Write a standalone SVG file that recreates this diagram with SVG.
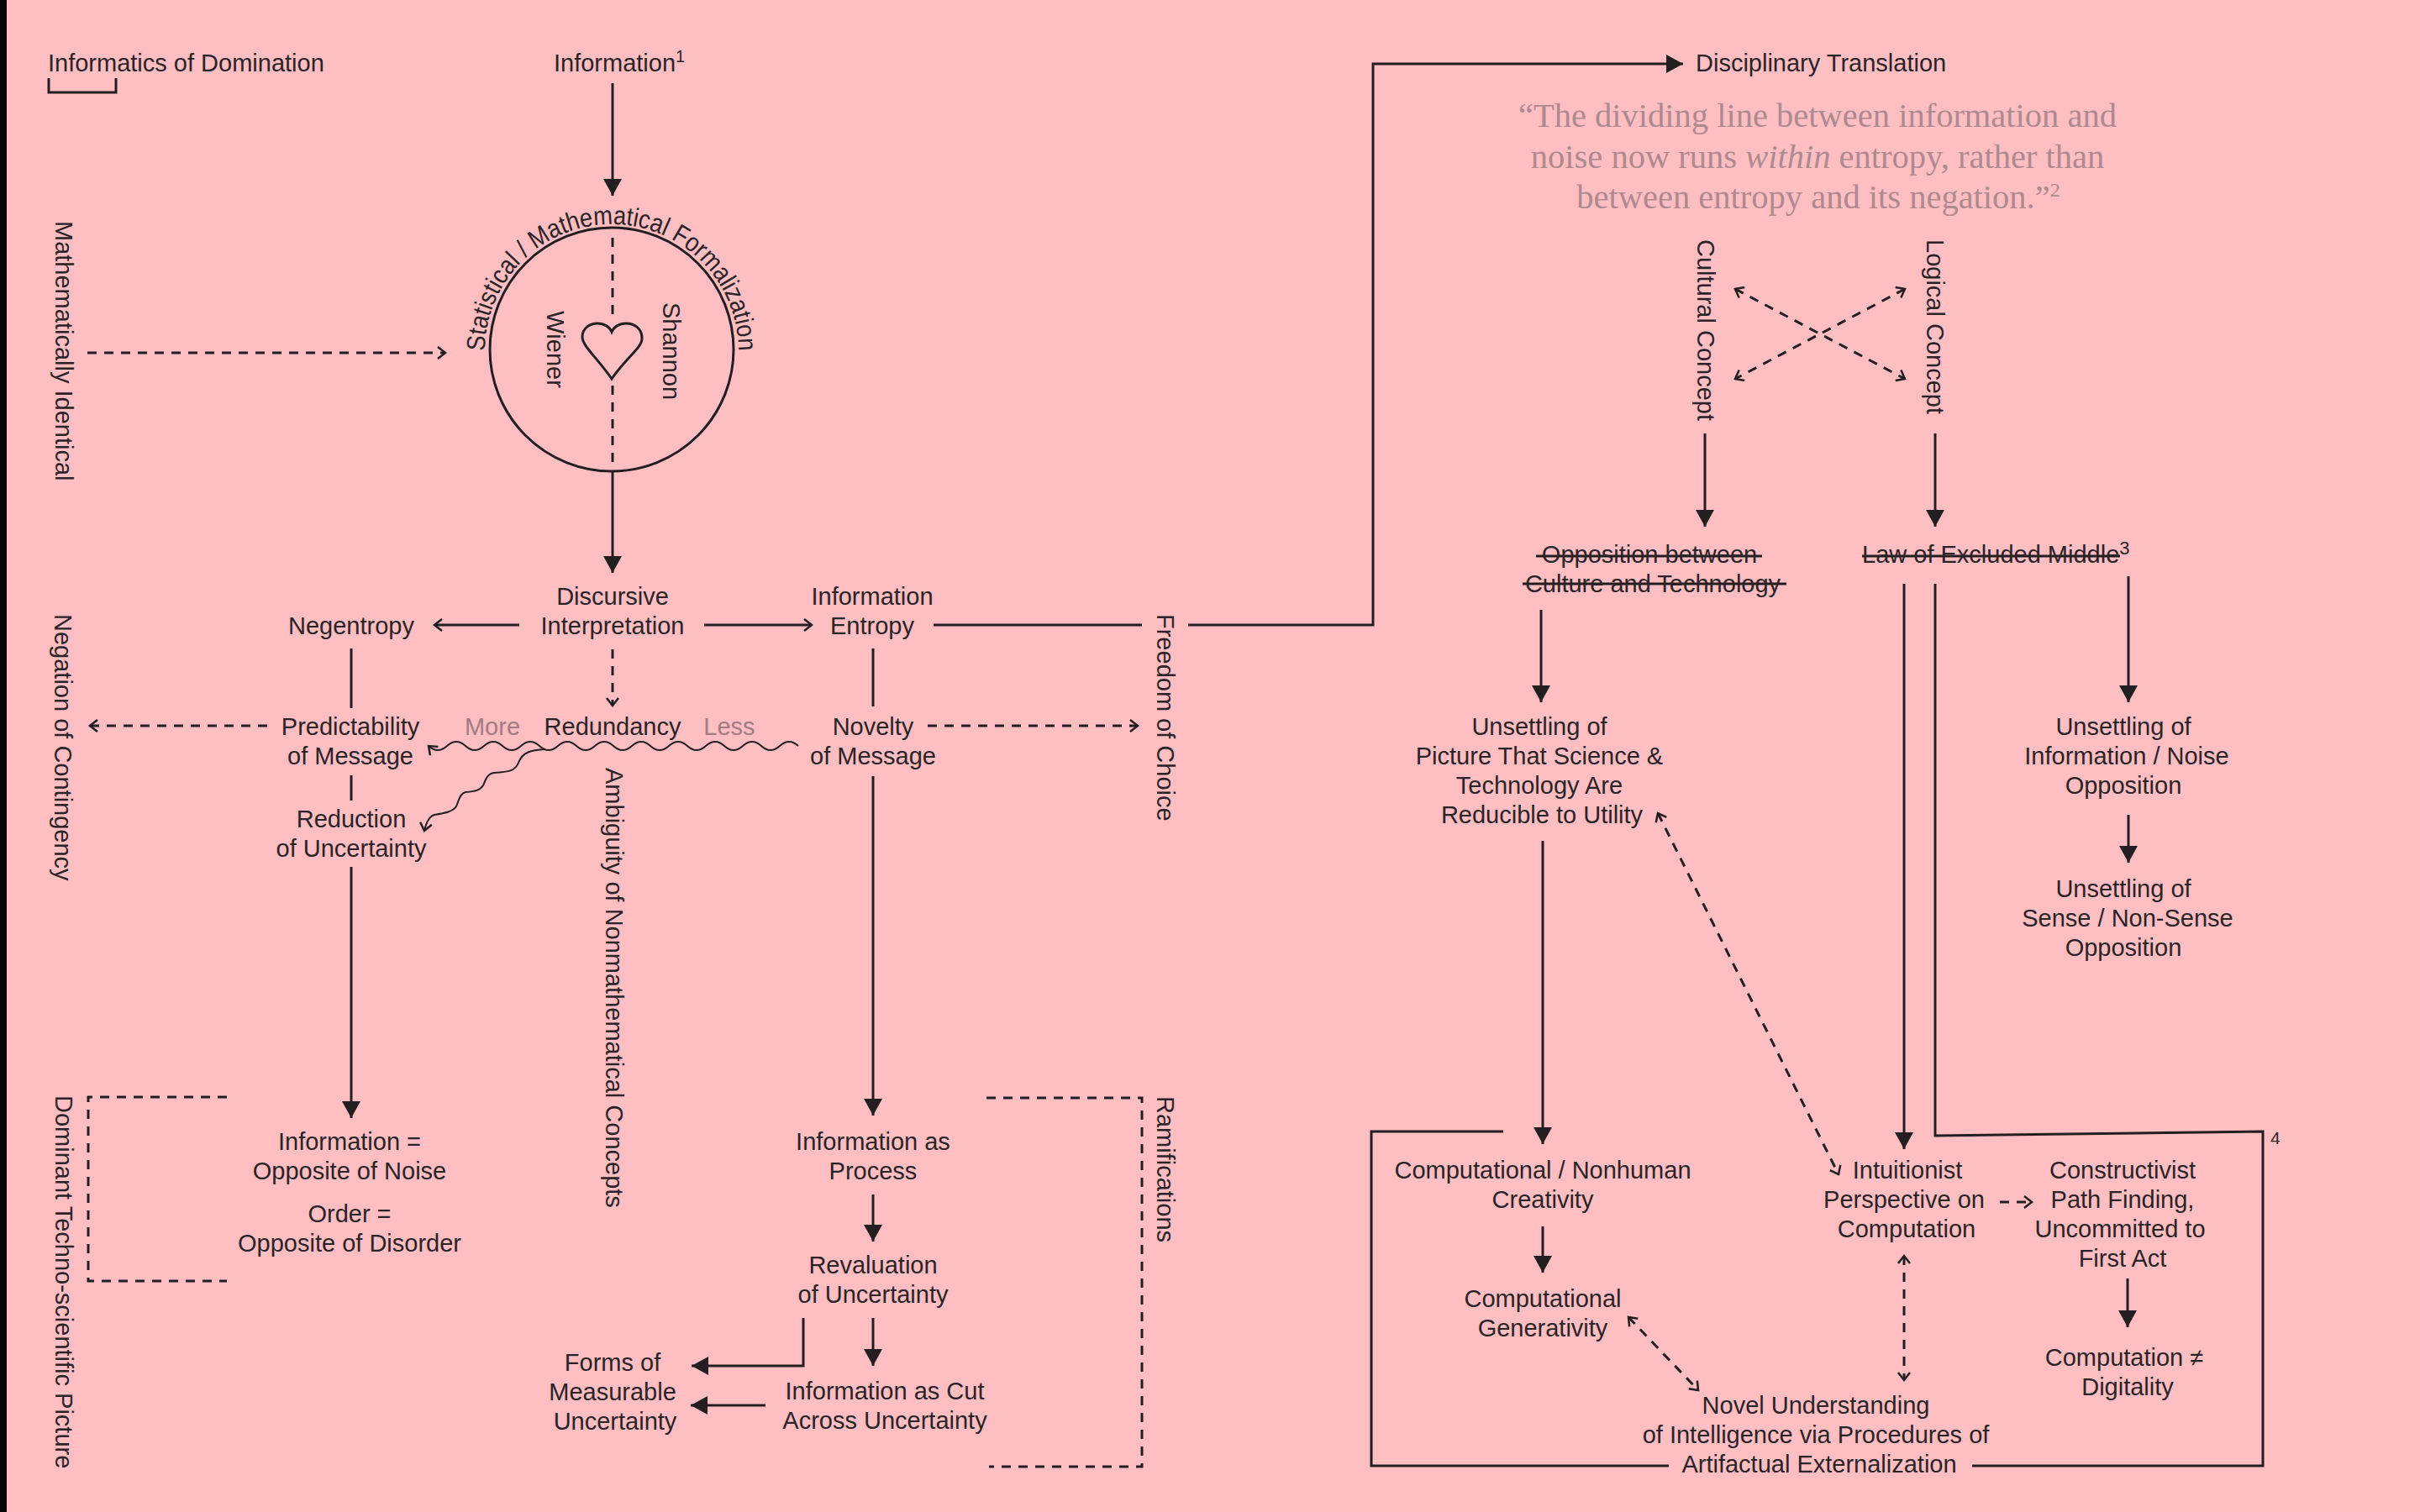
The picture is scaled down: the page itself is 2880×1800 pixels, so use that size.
<svg xmlns="http://www.w3.org/2000/svg" width="2880" height="1800" viewBox="0 0 2880 1800">
<style>
text{font-family:"Liberation Sans",Arial,sans-serif;font-size:29px;fill:#2b2427}
.m{text-anchor:middle}
.g{fill:#a27c80}
.q{font-family:"Liberation Serif","Times New Roman",serif;font-size:40.5px;fill:#ae8a8e;text-anchor:middle}
.l{fill:none;stroke:#231f20;stroke-width:3}
.d{stroke-dasharray:11 9}
.s{marker-end:url(#solid)}
.o{marker-end:url(#open)}
.b{marker-start:url(#openS);marker-end:url(#open)}
.w{stroke-width:2}
</style>
<defs>
<marker id="solid" markerUnits="userSpaceOnUse" markerWidth="22" markerHeight="24" refX="20" refY="11" orient="auto"><path d="M0 0L20 11L0 22Z" fill="#231f20"/></marker>
<marker id="open" markerUnits="userSpaceOnUse" markerWidth="14" markerHeight="18" refX="11" refY="8" orient="auto"><path d="M2 1L11 8L2 15" fill="none" stroke="#231f20" stroke-width="2.5"/></marker>
<marker id="openS" markerUnits="userSpaceOnUse" markerWidth="14" markerHeight="18" refX="3" refY="8" orient="auto"><path d="M12 1L3 8L12 15" fill="none" stroke="#231f20" stroke-width="2.5"/></marker>
</defs>
<rect width="2880" height="1800" fill="#ffbec2"/>
<rect width="8" height="1800" fill="#050505"/>
<g id="connectors">
<path class="l" d="M58 93V110H138V93"/>
<path class="l s" d="M729 99V233"/>
<path class="l d" d="M729 283V376M729 459V553"/>
<path class="l s" d="M729 560V682"/>
<path class="l d o" d="M104 420H530"/>
<path class="l o" d="M618 744H517"/>
<path class="l o" d="M838 744H966"/>
<path class="l d o" d="M729 773V840"/>
<path class="l" d="M418 772V843M418 923V953"/>
<path class="l s" d="M418 1032V1331"/>
<path class="l d o" d="M318 864H107"/>
<path class="l w o" d="M950 888q-11 -10 -22 0t-22 0t-22 0t-22 0t-22 0t-22 0t-22 0t-22 0t-22 0t-22 0t-22 0t-22 0t-22 0t-22 0t-22 0t-22 0t-22 0t-22 0t-22 0t-22 0"/>
<path class="l w o" d="M649 892C632 893 622 895 617 908C613 918 605 919 588 920C580 921 578 928 575 935C571 941 566 942 554 943C547 945 546 953 543 960C539 966 530 968 517 970C510 972 507 980 505 989"/>
<path class="l" d="M1039 772V841"/>
<path class="l s" d="M1039 924V1328"/>
<path class="l d o" d="M1104 864H1354"/>
<path class="l" d="M1111 744H1359"/>
<path class="l s" d="M1414 744H1634V76H2003"/>
<path class="l s" d="M1039 1422V1478"/>
<path class="l s" d="M1039 1569V1626"/>
<path class="l s" d="M956 1569V1626H823"/>
<path class="l s" d="M911 1673H822"/>
<path class="l d" d="M1174 1307H1359V1746H1177"/>
<path class="l d" d="M270 1306H105V1525H270"/>
<path class="l d b" d="M2065 344L2267 451"/>
<path class="l d b" d="M2267 344L2065 451"/>
<path class="l s" d="M2029 516V627"/>
<path class="l s" d="M2303 516V627"/>
<path class="l" d="M1828 662H2097M1812 695H2126M2216 662H2523"/>
<path class="l s" d="M1834 726V836"/>
<path class="l s" d="M2533 686V836"/>
<path class="l s" d="M2533 970V1027"/>
<path class="l s" d="M1836 1001V1362"/>
<path class="l s" d="M2266 695V1368"/>
<path class="l" d="M2303 695V1352L2693 1347V1745H2347M1986 1745H1632V1347H1789"/>
<path class="l s" d="M1836 1460V1515"/>
<path class="l d b" d="M1938 1568L2021 1655"/>
<path class="l d b" d="M1973 968L2188 1398"/>
<path class="l d b" d="M2266 1495V1643"/>
<path class="l d o" d="M2380 1431H2418"/>
<path class="l s" d="M2532 1522V1580"/>
</g>
<g id="informatics"><text x="57" y="85">Informatics of Domination</text></g>
<g id="information"><text x="659" y="85">Information<tspan style="font-size:20px" dy="-11">1</tspan></text></g>
<g id="math-identical"><text transform="translate(66 263) rotate(90)">Mathematically Identical</text></g>
<g id="formalization">
<circle class="l" cx="728" cy="416" r="145"/>
<path class="l" d="M728 451C710 425 693 412 693 401C693 390 703 385 711 385C720 385 726 390 728 395C730 390 736 385 745 385C754 385 764 390 764 403C764 414 746 425 728 451Z"/>
<path id="arc" fill="none" d="M577 418A151 151 0 0 1 879 418"/>
<text style="font-size:31px"><textPath href="#arc" textLength="474" lengthAdjust="spacingAndGlyphs">Statistical / Mathematical Formalization</textPath></text>
<text transform="translate(651 370) rotate(90)">Wiener</text>
<text transform="translate(789 360) rotate(90)">Shannon</text>
</g>
<g id="discursive"><text class="m" x="729" y="720">Discursive</text><text class="m" x="729" y="755">Interpretation</text></g>
<g id="negentropy"><text class="m" x="418" y="755">Negentropy</text></g>
<g id="entropy"><text class="m" x="1038" y="720">Information</text><text class="m" x="1038" y="755">Entropy</text></g>
<g id="predictability"><text class="m" x="417" y="875">Predictability</text><text class="m" x="417" y="910">of Message</text></g>
<g id="redundancy"><text class="m g" x="586" y="875">More</text><text class="m" x="729" y="875">Redundancy</text><text class="m g" x="868" y="875">Less</text></g>
<g id="novelty"><text class="m" x="1039" y="875">Novelty</text><text class="m" x="1039" y="910">of Message</text></g>
<g id="reduction"><text class="m" x="418" y="985">Reduction</text><text class="m" x="418" y="1020">of Uncertainty</text></g>
<g id="negation"><text transform="translate(65 731) rotate(90)">Negation of Contingency</text></g>
<g id="ambiguity"><text transform="translate(721 914) rotate(90)">Ambiguity of Nonmathematical Concepts</text></g>
<g id="freedom"><text transform="translate(1377 731) rotate(90)">Freedom of Choice</text></g>
<g id="dominant"><text transform="translate(66 1304) rotate(90)">Dominant Techno-scientific Picture</text></g>
<g id="ramifications"><text transform="translate(1377 1305) rotate(90)">Ramifications</text></g>
<g id="noise"><text class="m" x="416" y="1369">Information =</text><text class="m" x="416" y="1404">Opposite of Noise</text><text class="m" x="416" y="1455">Order =</text><text class="m" x="416" y="1490">Opposite of Disorder</text></g>
<g id="process"><text class="m" x="1039" y="1369">Information as</text><text class="m" x="1039" y="1404">Process</text></g>
<g id="revaluation"><text class="m" x="1039" y="1516">Revaluation</text><text class="m" x="1039" y="1551">of Uncertainty</text></g>
<g id="forms"><text class="m" x="729" y="1632">Forms of</text><text class="m" x="729" y="1667">Measurable</text><text class="m" x="732" y="1702">Uncertainty</text></g>
<g id="cut"><text class="m" x="1053" y="1666">Information as Cut</text><text class="m" x="1053" y="1701">Across Uncertainty</text></g>
<g id="disciplinary"><text x="2018" y="85">Disciplinary Translation</text></g>
<g id="quote"><text class="q" x="2163" y="151">“The dividing line between information and</text><text class="q" x="2163" y="200">noise now runs <tspan font-style="italic">within</tspan> entropy, rather than</text><text class="q" x="2164" y="248">between entropy and its negation.”<tspan style="font-size:24px" dy="-14">2</tspan></text></g>
<g id="cultural"><text transform="translate(2020 285) rotate(90)">Cultural Concept</text></g>
<g id="logical"><text transform="translate(2293 285) rotate(90)">Logical Concept</text></g>
<g id="opposition"><text class="m" x="1963" y="670">Opposition between</text><text class="m" x="1967" y="705">Culture and Technology</text></g>
<g id="excluded"><text x="2216" y="670">Law of Excluded Middle<tspan style="font-size:22px" dy="-10">3</tspan></text></g>
<g id="unsettling-picture"><text class="m" x="1832" y="875">Unsettling of</text><text class="m" x="1832" y="910">Picture That Science &amp;</text><text class="m" x="1832" y="945">Technology Are</text><text class="m" x="1835" y="980">Reducible to Utility</text></g>
<g id="unsettling-noise"><text class="m" x="2527" y="875">Unsettling of</text><text class="m" x="2531" y="910">Information / Noise</text><text class="m" x="2527" y="945">Opposition</text></g>
<g id="unsettling-sense"><text class="m" x="2527" y="1068">Unsettling of</text><text class="m" x="2532" y="1103">Sense / Non-Sense</text><text class="m" x="2527" y="1138">Opposition</text></g>
<g id="note4"><text x="2702" y="1362" style="font-size:21px">4</text></g>
<g id="creativity"><text class="m" x="1836" y="1403">Computational / Nonhuman</text><text class="m" x="1836" y="1438">Creativity</text></g>
<g id="generativity"><text class="m" x="1836" y="1556">Computational</text><text class="m" x="1836" y="1591">Generativity</text></g>
<g id="intuitionist"><text class="m" x="2270" y="1403">Intuitionist</text><text class="m" x="2266" y="1438">Perspective on</text><text class="m" x="2269" y="1473">Computation</text></g>
<g id="constructivist"><text class="m" x="2526" y="1403">Constructivist</text><text class="m" x="2526" y="1438">Path Finding,</text><text class="m" x="2523" y="1473">Uncommitted to</text><text class="m" x="2526" y="1508">First Act</text></g>
<g id="digitality"><text class="m" x="2528" y="1626">Computation ≠</text><text class="m" x="2532" y="1661">Digitality</text></g>
<g id="novel"><text class="m" x="2161" y="1683">Novel Understanding</text><text class="m" x="2161" y="1718">of Intelligence via Procedures of</text><text class="m" x="2165" y="1753">Artifactual Externalization</text></g>
</svg>
